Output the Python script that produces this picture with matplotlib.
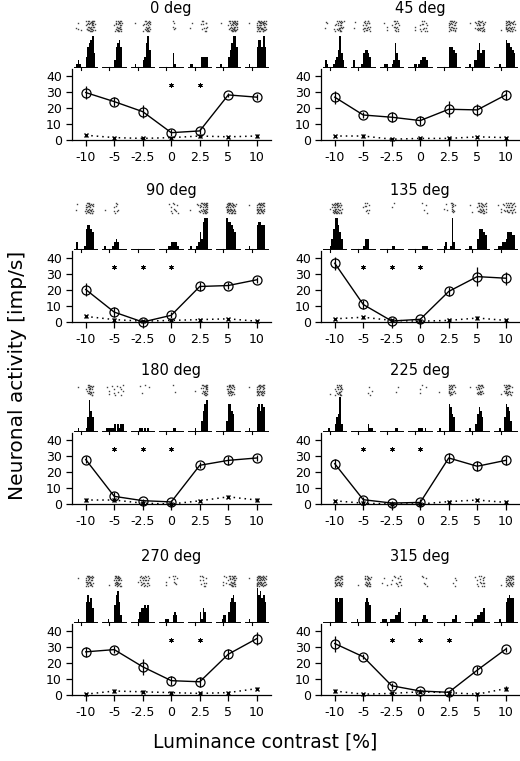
import numpy as np
import matplotlib
matplotlib.use("Agg")
import matplotlib.pyplot as plt

plt.rcParams['font.family'] = ['DejaVu Sans']

contrast_labels = ["-10", "-5", "-2.5", "0", "2.5", "5", "10"]
panel_titles = ["0 deg", "45 deg", "90 deg", "135 deg",
                "180 deg", "225 deg", "270 deg", "315 deg"]

resp_mean = [
    [29.8, 24.1, 17.8, 4.6, 5.7, 28.3, 26.9],
    [26.9, 15.7, 14.3, 12.2, 19.3, 18.9, 28.3],
    [20.4, 6.2, 0.0, 4.2, 22.3, 22.9, 26.5],
    [36.9, 11.0, 0.6, 1.7, 19.2, 28.5, 27.5],
    [27.9, 4.8, 2.1, 1.3, 24.3, 27.4, 28.9],
    [25.3, 2.7, 0.6, 1.0, 28.9, 23.7, 27.4],
    [27.1, 28.5, 17.7, 9.0, 8.3, 25.6, 35.4],
    [32.3, 24.0, 5.8, 2.5, 1.7, 15.6, 28.8],
]
resp_err = [
    [4, 3, 4, 2, 2, 1.5, 2],
    [4, 2, 3, 3, 5, 4, 3],
    [4, 3, 1, 2, 3, 2, 2],
    [4, 3, 1.5, 1, 3, 6, 4],
    [2, 3, 1, 1, 2, 3, 2],
    [3, 2, 1, 2, 3, 3, 3],
    [3, 2, 5, 3, 3, 3, 4],
    [5, 1.5, 2, 1, 1, 2.5, 1.5],
]
spont_mean = [
    [3, 1.5, 1, 1.5, 2.5, 2, 2.5],
    [2.5, 2.5, 0.5, 1, 1, 2, 1.5],
    [3.5, 1.5, 0.5, 1, 1.5, 2, 0.5],
    [2, 3, 1, 0.5, 1, 2.5, 1],
    [2.5, 2.5, 0.5, 0, 2, 4.5, 2.5],
    [2, 0.5, 0, 0, 1.5, 2.5, 1],
    [0.5, 2.5, 2, 1.5, 1, 1.5, 4],
    [2.5, 0.5, 1, 2, 1.5, 0.5, 4],
]
spont_err = [
    [1, 0.5, 0.5, 0.5, 1, 0.5, 1],
    [0.5, 1, 0.5, 0.5, 0.5, 0.5, 0.5],
    [1, 1, 0.5, 0.5, 0.5, 0.5, 0.5],
    [0.5, 1, 0.5, 0.5, 0.5, 1, 0.5],
    [1, 1, 0.5, 0.5, 0.5, 1, 1],
    [0.5, 0.5, 0.5, 0.5, 0.5, 0.5, 0.5],
    [0.5, 1, 1, 1, 0.5, 0.5, 1],
    [1.5, 0.5, 0.5, 0.5, 0.5, 0.5, 1.5],
]
significant = [
    [0, 0, 0, 1, 1, 0, 0],
    [0, 0, 0, 0, 0, 0, 0],
    [0, 1, 1, 1, 0, 0, 0],
    [0, 1, 1, 1, 0, 0, 0],
    [0, 1, 1, 1, 0, 0, 0],
    [0, 1, 1, 1, 0, 0, 0],
    [0, 0, 0, 1, 1, 0, 0],
    [0, 0, 1, 1, 1, 0, 0],
]
# PSTH bin heights (hex digits, 14 bins per contrast condition)
psth = [
    ["01210003678940", "00000002678600", "00100002379500", "00000000410000",
     "01100000333300", "00100003579960", "00100006886960"],
    ["02100012359420", "02000014554300", "00111001274200", "00011012333200",
     "00000006665400", "00100225745500", "00010008776540"],
    ["02000016776500", "01000012320000", "00000000000000", "00000112222100",
     "01000125389900", "00000098876500", "00100007887700"],
    ["00001369975300", "00000001333000", "00000001100000", "00000000111100",
     "00001200192000", "00110003666540", "00111223555440"],
    ["00100001496400", "00111112021220", "00000110101000", "00000000110000",
     "00001000368900", "00000038865000", "00100007868700"],
    ["0001000245e200", "00000000002110", "00000000011000", "00000011101000",
     "01000008754000", "00100025764000", "00010048763000"],
    ["00100006867400", "00010005896200", "00001344545000", "00011100232000",
     "00000003143000", "00012203678600", "0010000a897860"],
    ["00000007767700", "00010000676500", "01110011122340", "00000000122100",
     "00000000011200", "00000112233400", "00010006787700"],
]

W, H = 520, 761
fig = plt.figure(figsize=(W / 100, H / 100), dpi=100)

col_left = [71.5, 320.5]
ax_w = 199.5
zero_lines = [140, 322, 504, 695]
title_off = [131, 132, 133, 139]
px_per_unit = 63.7 / 40.0
nb = 14
bw = 0.056
ntr = 10
x = np.arange(len(contrast_labels))


def fax(left, top, width, height):
    return fig.add_axes([left / W, 1 - (top + height) / H, width / W, height / H])


for p in range(8):
    r, c = divmod(p, 2)
    Z = zero_lines[r]
    L = col_left[c]
    # main tuning axes
    ax = fax(L, Z - 71, ax_w, 71)
    ax.set_xlim(-0.5, 6.5)
    ax.set_ylim(0, 71 / px_per_unit)
    for s in ["top", "right"]:
        ax.spines[s].set_visible(False)
    ax.spines["left"].set_linewidth(0.9)
    ax.spines["bottom"].set_linewidth(0.9)
    ax.set_xticks(x)
    ax.set_xticklabels(contrast_labels)
    ax.set_yticks([0, 10, 20, 30, 40])
    ax.tick_params(axis="both", direction="out", length=4, width=0.9,
                   labelsize=9, pad=3)
    ax.tick_params(axis="x", pad=4)
    ax.errorbar(x, resp_mean[p], yerr=resp_err[p], color="black", lw=1.0,
                elinewidth=0.9, capsize=0, marker="o", ms=6.5, mfc="none",
                mec="black", mew=0.9, clip_on=False, zorder=3)
    ax.errorbar(x, spont_mean[p], yerr=spont_err[p], color="black", lw=1.1,
                ls=(0, (1, 2.6)), elinewidth=0.9, capsize=0, marker="x",
                ms=3.5, mew=1.0, clip_on=False, zorder=3)
    sig_x = [xi for xi, s in zip(x, significant[p]) if s]
    ax.plot(sig_x, [34.5] * len(sig_x), ls="none", marker=(6, 2, 0),
            ms=3.2, mew=0.7, color="black")

    # PSTH axes
    hax = fax(L, Z - 73 - 34, ax_w, 34)
    hax.set_xlim(-0.5, 6.5)
    hax.set_ylim(0, 34 / 3.4)
    hax.axis("off")
    # raster axes
    rax = fax(L, Z - 120, ax_w, 12)
    rax.set_xlim(-0.5, 6.5)
    rax.set_ylim(-0.5, ntr - 0.5)
    rax.axis("off")
    for i in range(len(contrast_labels)):
        vals = np.array([int(ch, 16) for ch in psth[p][i]], dtype=float)
        starts = i - 0.40 + np.arange(nb) * bw
        hax.bar(starts + bw / 2, vals, width=bw, color="black", lw=0)
        hax.plot([i - 0.42, i + 0.40], [0, 0], color="black", lw=0.7,
                 clip_on=False)
        onset = i - 0.40 + 4 * bw
        hax.plot([onset, onset], [-0.9, 0], color="black", lw=0.8,
                 clip_on=False)
        # raster built from PSTH counts (one dot per spike-bearing trial)
        rx, ry = [], []
        for j, v in enumerate(vals):
            k = int(round(v * ntr / 10.0))
            if v > 0 and k == 0:
                k = 1
            k = min(k, ntr)
            step = ntr / max(k, 1)
            for m in range(k):
                row = int((j * 3.7 + m * step)) % ntr
                sub = ((m * 0.43 + j * 0.29) % 1.0)
                rx.append(starts[j] + bw * sub)
                ry.append(row)
        rax.plot(rx, ry, ls="none", marker="s", ms=1.0, mew=0,
                 color="#444444")

    fig.text((L + ax_w / 2) / W, 1 - (Z - title_off[r]) / H,
             panel_titles[p], ha="center", va="center", fontsize=10.5)

fig.text(18 / W, 1 - 375 / H, "Neuronal activity [imp/s]", rotation=90,
         ha="center", va="center", fontsize=14.5)
fig.text(265 / W, 1 - 742 / H, "Luminance contrast [%]", ha="center",
         va="center", fontsize=13.5)

fig.savefig("out.png", dpi=100)
